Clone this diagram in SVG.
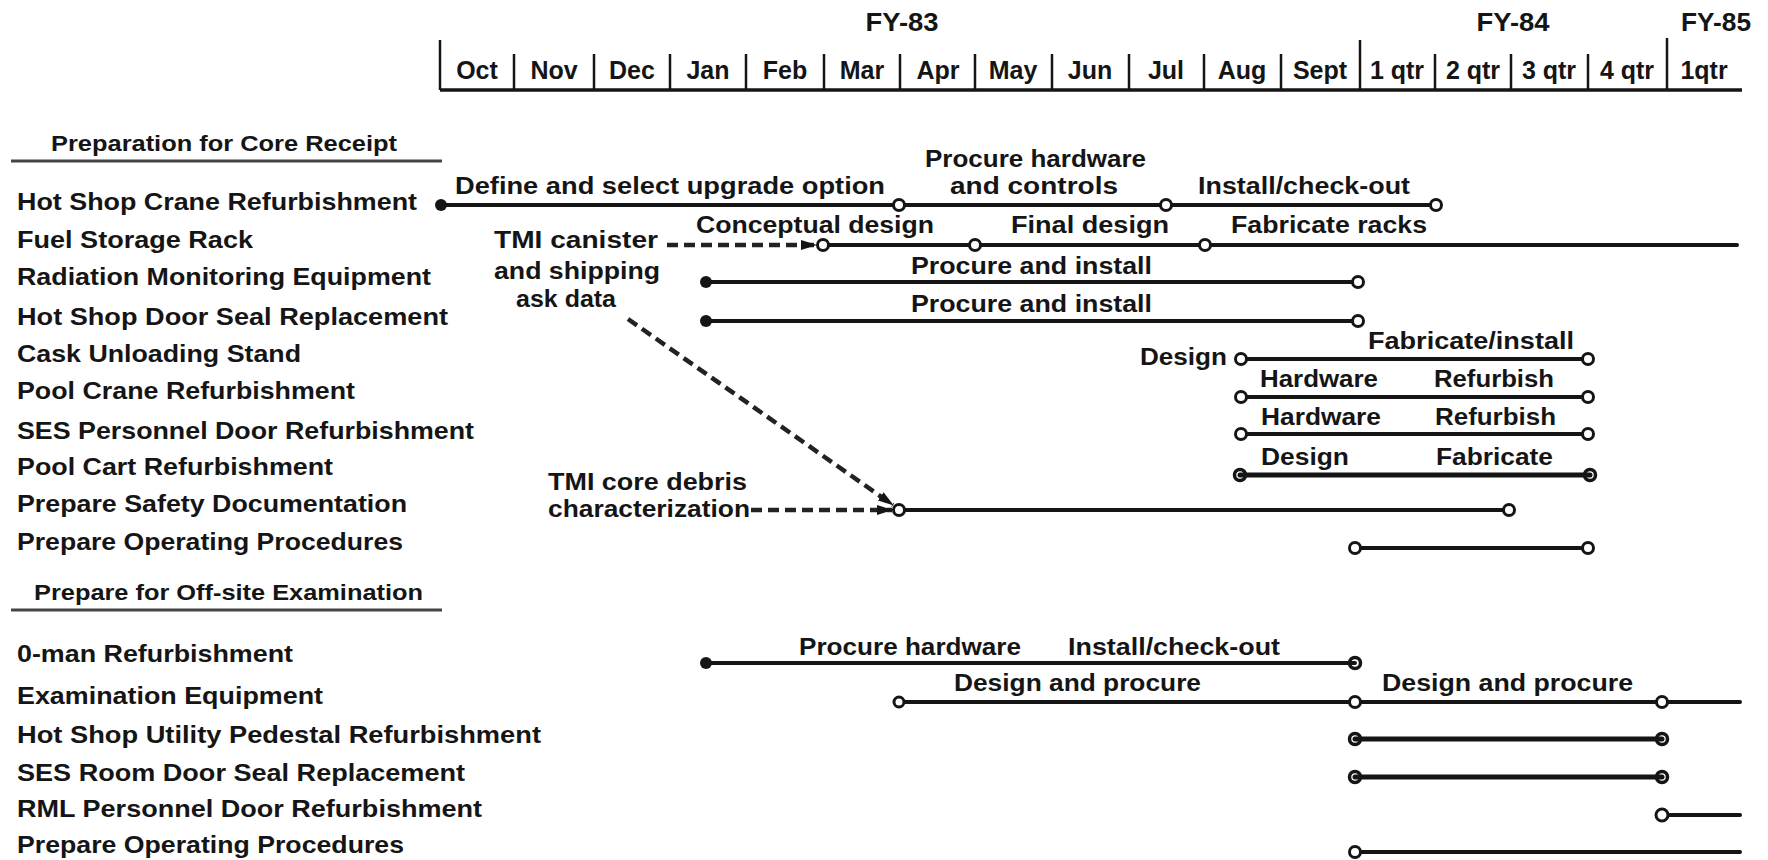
<svg xmlns="http://www.w3.org/2000/svg" width="1768" height="860" viewBox="0 0 1768 860">
<style>
text{font-family:"Liberation Sans",Arial,sans-serif;font-weight:bold;fill:#151515}
.m{font-size:25px;text-anchor:middle}
.fy{font-size:25px;text-anchor:middle}
.h{font-size:22px}
.r{font-size:24px}
.b{font-size:23px}
.ax{stroke:#151515;stroke-width:3.5;fill:none}
.dv{stroke:#151515;stroke-width:2.5}
.bar{stroke:#151515;stroke-width:4;fill:none;stroke-linecap:round}
.oc{fill:#fff;stroke:#151515;stroke-width:3}
.fc{fill:#151515}
.hc{fill:none;stroke:#151515;stroke-width:3.5}
.ul{stroke:#444;stroke-width:3}
.dash{stroke:#222;stroke-width:4.5;fill:none;stroke-dasharray:11 6}
</style>
<defs>
<marker id="ah" markerWidth="16" markerHeight="10" refX="15" refY="5" orient="auto" markerUnits="userSpaceOnUse" viewBox="0 0 16 10">
<path d="M0,0 L16,5 L0,10 Z" fill="#151515"/>
</marker>
</defs>
<rect width="1768" height="860" fill="#fff"/>

<g id="timeline">
<text class="fy" x="902" y="31" textLength="73" lengthAdjust="spacingAndGlyphs">FY-83</text>
<text class="fy" x="1513" y="31" textLength="73" lengthAdjust="spacingAndGlyphs">FY-84</text>
<text class="fy" x="1716" y="31" textLength="70" lengthAdjust="spacingAndGlyphs">FY-85</text>
<line class="ax" x1="440" y1="90" x2="1742" y2="90"/>
<line class="dv" x1="440" y1="40" x2="440" y2="90"/>
<line class="dv" x1="1360" y1="40" x2="1360" y2="90"/>
<line class="dv" x1="1667" y1="38" x2="1667" y2="90"/>
<g>
<line class="dv" x1="514" y1="54" x2="514" y2="90"/>
<line class="dv" x1="594" y1="54" x2="594" y2="90"/>
<line class="dv" x1="670" y1="54" x2="670" y2="90"/>
<line class="dv" x1="746" y1="54" x2="746" y2="90"/>
<line class="dv" x1="824" y1="54" x2="824" y2="90"/>
<line class="dv" x1="900" y1="54" x2="900" y2="90"/>
<line class="dv" x1="975" y1="54" x2="975" y2="90"/>
<line class="dv" x1="1052" y1="54" x2="1052" y2="90"/>
<line class="dv" x1="1129" y1="54" x2="1129" y2="90"/>
<line class="dv" x1="1204" y1="54" x2="1204" y2="90"/>
<line class="dv" x1="1281" y1="54" x2="1281" y2="90"/>
<line class="dv" x1="1435" y1="54" x2="1435" y2="90"/>
<line class="dv" x1="1511" y1="54" x2="1511" y2="90"/>
<line class="dv" x1="1588" y1="54" x2="1588" y2="90"/>
</g>
<text class="m" x="477" y="79">Oct</text>
<text class="m" x="554" y="79">Nov</text>
<text class="m" x="632" y="79">Dec</text>
<text class="m" x="708" y="79">Jan</text>
<text class="m" x="785" y="79">Feb</text>
<text class="m" x="862" y="79">Mar</text>
<text class="m" x="938" y="79">Apr</text>
<text class="m" x="1013" y="79">May</text>
<text class="m" x="1090" y="79">Jun</text>
<text class="m" x="1166" y="79">Jul</text>
<text class="m" x="1242" y="79">Aug</text>
<text class="m" x="1320" y="79">Sept</text>
<text class="m" x="1397" y="79">1 qtr</text>
<text class="m" x="1473" y="79">2 qtr</text>
<text class="m" x="1549" y="79">3 qtr</text>
<text class="m" x="1627" y="79">4 qtr</text>
<text class="m" x="1704" y="79">1qtr</text>
</g>

<g id="section-core">
<text class="h" x="51" y="151" textLength="346" lengthAdjust="spacingAndGlyphs">Preparation for Core Receipt</text>
<line class="ul" x1="11" y1="161" x2="442" y2="161"/>
</g>
<g id="section-offsite">
<text class="h" x="34" y="600" textLength="389" lengthAdjust="spacingAndGlyphs">Prepare for Off-site Examination</text>
<line class="ul" x1="11" y1="610" x2="442" y2="610"/>
</g>

<g id="row-hot-shop-crane">
<text class="r" x="17" y="210" textLength="400" lengthAdjust="spacingAndGlyphs">Hot Shop Crane Refurbishment</text>
<line class="bar" x1="441" y1="205" x2="1436" y2="205"/>
<circle class="fc" cx="441" cy="205" r="6"/>
<circle class="oc" cx="899" cy="205" r="5.5"/>
<circle class="oc" cx="1166" cy="205" r="5.5"/>
<circle class="oc" cx="1436" cy="205" r="5.5"/>
<text class="b" x="455" y="194" textLength="430" lengthAdjust="spacingAndGlyphs">Define and select upgrade option</text>
<text class="b" x="925" y="167" textLength="221" lengthAdjust="spacingAndGlyphs">Procure hardware</text>
<text class="b" x="950" y="194" textLength="168" lengthAdjust="spacingAndGlyphs">and controls</text>
<text class="b" x="1198" y="194" textLength="212" lengthAdjust="spacingAndGlyphs">Install/check-out</text>
</g>

<g id="row-fuel-storage-rack">
<text class="r" x="17" y="248" textLength="236" lengthAdjust="spacingAndGlyphs">Fuel Storage Rack</text>
<line class="bar" x1="823" y1="245" x2="1737" y2="245"/>
<circle class="oc" cx="823" cy="245" r="5.5"/>
<circle class="oc" cx="975" cy="245" r="5.5"/>
<circle class="oc" cx="1205" cy="245" r="5.5"/>
<text class="b" x="696" y="233" textLength="238" lengthAdjust="spacingAndGlyphs">Conceptual design</text>
<text class="b" x="1011" y="233" textLength="158" lengthAdjust="spacingAndGlyphs">Final design</text>
<text class="b" x="1231" y="233" textLength="196" lengthAdjust="spacingAndGlyphs">Fabricate racks</text>
</g>

<g id="row-radiation-monitoring">
<text class="r" x="17" y="285" textLength="414" lengthAdjust="spacingAndGlyphs">Radiation Monitoring Equipment</text>
<line class="bar" x1="706" y1="282" x2="1358" y2="282"/>
<circle class="fc" cx="706" cy="282" r="6"/>
<circle class="oc" cx="1358" cy="282" r="5.5"/>
<text class="b" x="911" y="274" textLength="241" lengthAdjust="spacingAndGlyphs">Procure and install</text>
</g>

<g id="row-hot-shop-door-seal">
<text class="r" x="17" y="325" textLength="431" lengthAdjust="spacingAndGlyphs">Hot Shop Door Seal Replacement</text>
<line class="bar" x1="706" y1="321" x2="1358" y2="321"/>
<circle class="fc" cx="706" cy="321" r="6"/>
<circle class="oc" cx="1358" cy="321" r="5.5"/>
<text class="b" x="911" y="312" textLength="241" lengthAdjust="spacingAndGlyphs">Procure and install</text>
</g>

<g id="row-cask-unloading-stand">
<text class="r" x="17" y="362" textLength="284" lengthAdjust="spacingAndGlyphs">Cask Unloading Stand</text>
<line class="bar" x1="1241" y1="359" x2="1588" y2="359"/>
<circle class="oc" cx="1241" cy="359" r="5.5"/>
<circle class="oc" cx="1588" cy="359" r="5.5"/>
<text class="b" x="1140" y="365" textLength="87" lengthAdjust="spacingAndGlyphs">Design</text>
<text class="b" x="1368" y="349" textLength="206" lengthAdjust="spacingAndGlyphs">Fabricate/install</text>
</g>

<g id="row-pool-crane">
<text class="r" x="17" y="399" textLength="338" lengthAdjust="spacingAndGlyphs">Pool Crane Refurbishment</text>
<line class="bar" x1="1241" y1="397" x2="1588" y2="397"/>
<circle class="oc" cx="1241" cy="397" r="5.5"/>
<circle class="oc" cx="1588" cy="397" r="5.5"/>
<text class="b" x="1260" y="387" textLength="118" lengthAdjust="spacingAndGlyphs">Hardware</text>
<text class="b" x="1434" y="387" textLength="120" lengthAdjust="spacingAndGlyphs">Refurbish</text>
</g>

<g id="row-ses-personnel-door">
<text class="r" x="17" y="439" textLength="457" lengthAdjust="spacingAndGlyphs">SES Personnel Door Refurbishment</text>
<line class="bar" x1="1241" y1="434" x2="1588" y2="434"/>
<circle class="oc" cx="1241" cy="434" r="5.5"/>
<circle class="oc" cx="1588" cy="434" r="5.5"/>
<text class="b" x="1261" y="425" textLength="120" lengthAdjust="spacingAndGlyphs">Hardware</text>
<text class="b" x="1435" y="425" textLength="121" lengthAdjust="spacingAndGlyphs">Refurbish</text>
</g>

<g id="row-pool-cart">
<text class="r" x="17" y="475" textLength="316" lengthAdjust="spacingAndGlyphs">Pool Cart Refurbishment</text>
<line class="bar" x1="1240" y1="475" x2="1590" y2="475" style="stroke-width:5"/>
<circle class="hc" cx="1240" cy="475" r="5.5"/>
<circle class="hc" cx="1590" cy="475" r="5.5"/>
<text class="b" x="1261" y="465" textLength="88" lengthAdjust="spacingAndGlyphs">Design</text>
<text class="b" x="1436" y="465" textLength="117" lengthAdjust="spacingAndGlyphs">Fabricate</text>
</g>

<g id="row-safety-documentation">
<text class="r" x="17" y="512" textLength="390" lengthAdjust="spacingAndGlyphs">Prepare Safety Documentation</text>
<line class="bar" x1="899" y1="510" x2="1509" y2="510"/>
<circle class="oc" cx="899" cy="510" r="5.5"/>
<circle class="oc" cx="1509" cy="510" r="5.5"/>
</g>

<g id="row-operating-procedures-1">
<text class="r" x="17" y="550" textLength="386" lengthAdjust="spacingAndGlyphs">Prepare Operating Procedures</text>
<line class="bar" x1="1355" y1="548" x2="1588" y2="548"/>
<circle class="oc" cx="1355" cy="548" r="5.5"/>
<circle class="oc" cx="1588" cy="548" r="5.5"/>
</g>

<g id="note-tmi-canister">
<text class="b" x="494" y="248" textLength="164" lengthAdjust="spacingAndGlyphs">TMI canister</text>
<text class="b" x="494" y="279" textLength="166" lengthAdjust="spacingAndGlyphs">and shipping</text>
<text class="b" x="516" y="307" style="font-size:24px" textLength="100" lengthAdjust="spacingAndGlyphs">ask data</text>
</g>

<g id="note-tmi-core-debris">
<text class="b" x="548" y="490" textLength="199" lengthAdjust="spacingAndGlyphs">TMI core debris</text>
<text class="b" x="548" y="517" textLength="202" lengthAdjust="spacingAndGlyphs">characterization</text>
</g>

<g id="row-0-man">
<text class="r" x="17" y="662" textLength="276" lengthAdjust="spacingAndGlyphs">0-man Refurbishment</text>
<line class="bar" x1="706" y1="663" x2="1355" y2="663"/>
<circle class="fc" cx="706" cy="663" r="6"/>
<circle class="hc" cx="1355" cy="663" r="5.5"/>
<text class="b" x="799" y="655" textLength="222" lengthAdjust="spacingAndGlyphs">Procure hardware</text>
<text class="b" x="1068" y="655" textLength="212" lengthAdjust="spacingAndGlyphs">Install/check-out</text>
</g>

<g id="row-examination-equipment">
<text class="r" x="17" y="704" textLength="306" lengthAdjust="spacingAndGlyphs">Examination Equipment</text>
<line class="bar" x1="899" y1="702" x2="1740" y2="702"/>
<circle class="oc" cx="899" cy="702" r="5"/>
<circle class="oc" cx="1355" cy="702" r="5.5"/>
<circle class="oc" cx="1662" cy="702" r="5.5"/>
<text class="b" x="954" y="691" textLength="247" lengthAdjust="spacingAndGlyphs">Design and procure</text>
<text class="b" x="1382" y="691" textLength="251" lengthAdjust="spacingAndGlyphs">Design and procure</text>
</g>

<g id="row-utility-pedestal">
<text class="r" x="17" y="743" textLength="524" lengthAdjust="spacingAndGlyphs">Hot Shop Utility Pedestal Refurbishment</text>
<line class="bar" x1="1355" y1="739" x2="1662" y2="739" style="stroke-width:5"/>
<circle class="hc" cx="1355" cy="739" r="5.5"/>
<circle class="hc" cx="1662" cy="739" r="5.5"/>
</g>

<g id="row-ses-room-door-seal">
<text class="r" x="17" y="781" textLength="448" lengthAdjust="spacingAndGlyphs">SES Room Door Seal Replacement</text>
<line class="bar" x1="1355" y1="777" x2="1662" y2="777" style="stroke-width:5"/>
<circle class="hc" cx="1355" cy="777" r="5.5"/>
<circle class="hc" cx="1662" cy="777" r="5.5"/>
</g>

<g id="row-rml-personnel-door">
<text class="r" x="17" y="817" textLength="465" lengthAdjust="spacingAndGlyphs">RML Personnel Door Refurbishment</text>
<line class="bar" x1="1662" y1="815" x2="1740" y2="815"/>
<circle class="oc" cx="1662" cy="815" r="6"/>
</g>

<g id="row-operating-procedures-2">
<text class="r" x="17" y="853" textLength="387" lengthAdjust="spacingAndGlyphs">Prepare Operating Procedures</text>
<line class="bar" x1="1355" y1="852" x2="1740" y2="852"/>
<circle class="oc" cx="1355" cy="852" r="5.5"/>
</g>

<g id="connectors">
<path class="dash" d="M667,245 L816,245" marker-end="url(#ah)"/>
<path class="dash" d="M751,510 L892,510" marker-end="url(#ah)"/>
<path class="dash" d="M628,319 L893,505" marker-end="url(#ah)"/>
</g>
</svg>
